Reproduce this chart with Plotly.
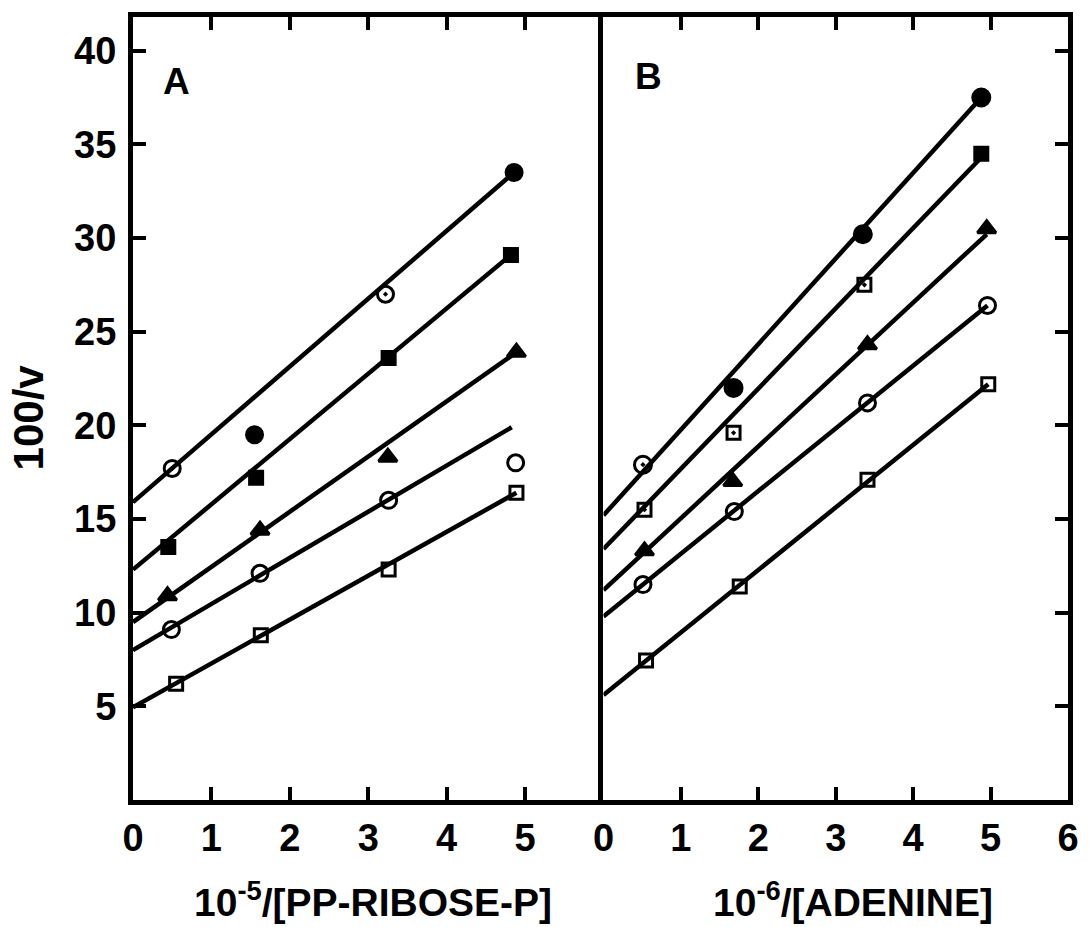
import plotly.graph_objects as go

# ---- Panel A: 100/v versus 10^-5/[PP-ribose-P] ----
a1_x = [0.50, 1.55, 3.22, 4.86]
a1_y = [17.7, 19.5, 27.0, 33.5]
a2_x = [0.45, 1.57, 3.26, 4.82]
a2_y = [13.5, 17.2, 23.6, 29.1]
a3_x = [0.44, 1.62, 3.25, 4.89]
a3_y = [10.9, 14.4, 18.3, 23.9]
a4_x = [0.49, 1.62, 3.26, 4.88]
a4_y = [9.1, 12.1, 16.0, 18.0]
a5_x = [0.55, 1.63, 3.26, 4.89]
a5_y = [6.2, 8.8, 12.3, 16.4]

# fitted lines for panel A (start at the axis, end at the last point)
a1_fit_x, a1_fit_y = [0, 4.86], [15.9, 33.5]
a2_fit_x, a2_fit_y = [0, 4.82], [12.3, 29.1]
a3_fit_x, a3_fit_y = [0, 4.89], [9.5, 23.9]
a4_fit_x, a4_fit_y = [0, 4.83], [8.0, 19.9]
a5_fit_x, a5_fit_y = [0, 4.89], [4.95, 16.4]

# ---- Panel B: 100/v versus 10^-6/[adenine] ----
b1_x = [0.51, 1.68, 3.35, 4.88]
b1_y = [17.9, 22.0, 30.2, 37.5]
b2_x = [0.53, 1.68, 3.37, 4.88]
b2_y = [15.5, 19.6, 27.5, 34.5]
b3_x = [0.53, 1.67, 3.41, 4.95]
b3_y = [13.3, 17.0, 24.3, 30.5]
b4_x = [0.51, 1.69, 3.41, 4.96]
b4_y = [11.5, 15.4, 21.2, 26.4]
b5_x = [0.55, 1.76, 3.41, 4.97]
b5_y = [7.45, 11.4, 17.1, 22.2]

b1_fit_x, b1_fit_y = [0, 4.88], [15.2, 37.5]
b2_fit_x, b2_fit_y = [0, 4.88], [13.4, 34.3]
b3_fit_x, b3_fit_y = [0, 4.95], [11.2, 30.2]
b4_fit_x, b4_fit_y = [0, 4.96], [9.8, 26.4]
b5_fit_x, b5_fit_y = [0, 4.97], [5.6, 22.2]

y_ticks = [5, 10, 15, 20, 25, 30, 35, 40]
xa_ticks = [0, 1, 2, 3, 4, 5]
xb_ticks = [0, 1, 2, 3, 4, 5, 6]

# marker styling per series
sym_filled_circle_a = ["circle-open-dot", "circle", "circle-open-dot", "circle"]
sym_filled_square_a = ["square", "square", "square", "square"]
sym_filled_circle_b = ["circle-open-dot", "circle", "circle", "circle"]
sym_filled_square_b = ["square-open-dot", "square-open-dot", "square-open-dot", "square"]

INK = "black"
LINE_W = 4.5

fig = go.Figure()


def add_series(xs, ys, fx, fy, symbols, size, xa, ya):
    fig.add_trace(go.Scatter(x=fx, y=fy, mode="lines", xaxis=xa, yaxis=ya,
                             line=dict(color=INK, width=LINE_W), showlegend=False,
                             hoverinfo="skip"))
    fig.add_trace(go.Scatter(x=xs, y=ys, mode="markers", xaxis=xa, yaxis=ya,
                             marker=dict(symbol=symbols, size=size, color=INK,
                                         line=dict(color=INK, width=3)),
                             showlegend=False))


add_series(a1_x, a1_y, a1_fit_x, a1_fit_y, sym_filled_circle_a, 16, "x", "y")
add_series(a2_x, a2_y, a2_fit_x, a2_fit_y, sym_filled_square_a, 13, "x", "y")
add_series(a3_x, a3_y, a3_fit_x, a3_fit_y, "triangle-up", 16, "x", "y")
add_series(a4_x, a4_y, a4_fit_x, a4_fit_y, "circle-open", 16, "x", "y")
add_series(a5_x, a5_y, a5_fit_x, a5_fit_y, "square-open", 13, "x", "y")

add_series(b1_x, b1_y, b1_fit_x, b1_fit_y, sym_filled_circle_b, 17, "x2", "y2")
add_series(b2_x, b2_y, b2_fit_x, b2_fit_y, sym_filled_square_b, 13, "x2", "y2")
add_series(b3_x, b3_y, b3_fit_x, b3_fit_y, "triangle-up", 16, "x2", "y2")
add_series(b4_x, b4_y, b4_fit_x, b4_fit_y, "circle-open", 16, "x2", "y2")
add_series(b5_x, b5_y, b5_fit_x, b5_fit_y, "square-open", 13, "x2", "y2")

FONT = "Liberation Sans"
tick_font = dict(family=FONT, size=38, color=INK, weight="bold")

axis_common = dict(showgrid=False, zeroline=False, showline=True, linecolor=INK,
                   linewidth=5, ticks="inside", tickcolor=INK, tickwidth=4,
                   ticklen=13, tickfont=tick_font)

split = 474 / 942

fig.update_layout(
    width=1091, height=927,
    margin=dict(l=133, r=16, t=15, b=127),
    paper_bgcolor="white", plot_bgcolor="white",
    xaxis=dict(domain=[0, split], range=[0, 6], tickvals=xa_ticks,
               mirror="ticks", anchor="y", **axis_common),
    xaxis2=dict(domain=[split, 1], range=[0, 6], tickvals=xb_ticks,
                mirror="ticks", anchor="y2", **axis_common),
    # the divider between the panels is drawn by the right panel's own y axis line
    yaxis=dict(range=[0, 41.8], tickvals=y_ticks, side="left", mirror=False,
               anchor="x", ticklabelstandoff=4, **axis_common),
    yaxis2=dict(range=[0, 41.8], tickvals=y_ticks, side="right", mirror=True,
                anchor="x2", matches="y", showticklabels=False, **axis_common),
)

label_font = dict(family=FONT, size=39, color=INK, weight="bold")

fig.add_annotation(text="10<sup>-5</sup>/[PP-RIBOSE-P]", xref="paper", yref="paper",
                   x=0.257, y=-0.127, xanchor="center", yanchor="middle",
                   showarrow=False, font=label_font)
fig.add_annotation(text="10<sup>-6</sup>/[ADENINE]", xref="paper", yref="paper",
                   x=0.77, y=-0.127, xanchor="center", yanchor="middle",
                   showarrow=False, font=label_font)
fig.add_annotation(text="100/v", xref="paper", yref="paper", x=-0.112, y=0.489,
                   xanchor="center", yanchor="middle", textangle=-90,
                   showarrow=False, font=dict(family=FONT, size=42, color=INK, weight="bold"))
fig.add_annotation(text="A", xref="paper", yref="paper", x=0.047, y=0.917,
                   xanchor="center", yanchor="middle", showarrow=False,
                   font=dict(family=FONT, size=37, color=INK, weight="bold"))
fig.add_annotation(text="B", xref="paper", yref="paper", x=0.551, y=0.924,
                   xanchor="center", yanchor="middle", showarrow=False,
                   font=dict(family=FONT, size=37, color=INK, weight="bold"))

fig.write_html("out.html")
